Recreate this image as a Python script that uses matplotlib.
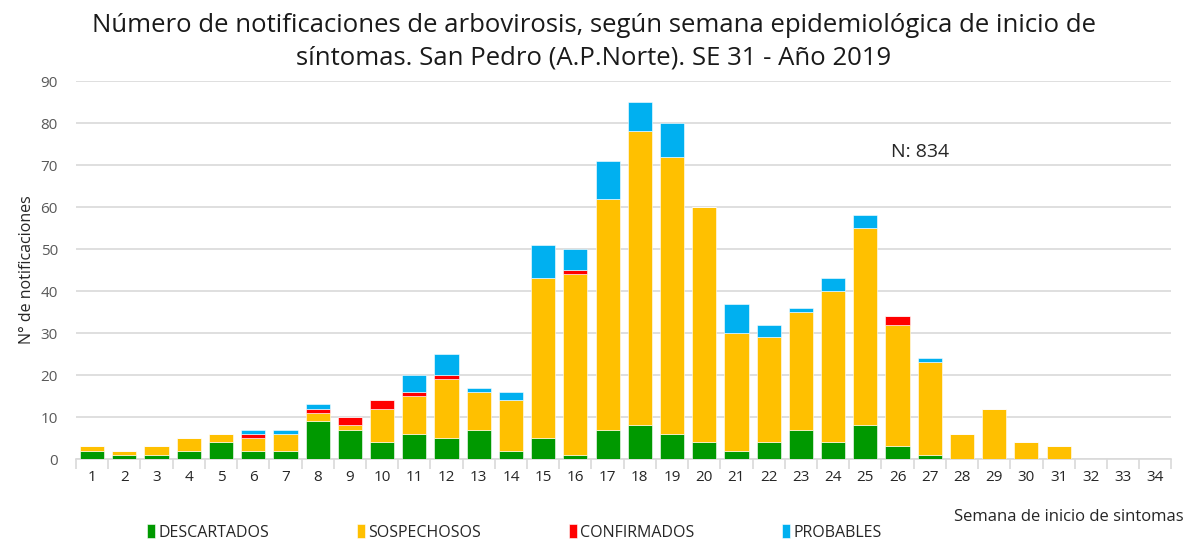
import matplotlib
matplotlib.use("Agg")
import matplotlib.pyplot as plt
import numpy as np

# semanas epidemiologicas 1..34
semanas = [str(i) for i in range(1, 35)]
descartados = [2, 1, 1, 2, 4, 2, 2, 9, 7, 4, 6, 5, 7, 2, 5, 1, 7, 8, 6, 4, 2, 4, 7, 4, 8, 3, 1, 0, 0, 0, 0, 0, 0, 0]
sospechosos = [1, 1, 2, 3, 2, 3, 4, 2, 1, 8, 9, 14, 9, 12, 38, 43, 55, 70, 66, 56, 28, 25, 28, 36, 47, 29, 22, 6, 12, 4, 3, 0, 0, 0]
confirmados = [0, 0, 0, 0, 0, 1, 0, 1, 2, 2, 1, 1, 0, 0, 0, 1, 0, 0, 0, 0, 0, 0, 0, 0, 0, 2, 0, 0, 0, 0, 0, 0, 0, 0]
probables = [0, 0, 0, 0, 0, 1, 1, 1, 0, 0, 4, 5, 1, 2, 8, 5, 9, 7, 8, 0, 7, 3, 1, 3, 3, 0, 1, 0, 0, 0, 0, 0, 0, 0]
yticks = list(range(0, 91, 10))

series = [
    ("DESCARTADOS", descartados, "#009900"),
    ("SOSPECHOSOS", sospechosos, "#FFC000"),
    ("CONFIRMADOS", confirmados, "#FF0000"),
    ("PROBABLES", probables, "#00B0F0"),
]

plt.rcParams['font.family'] = ['Open Sans', 'DejaVu Sans']

fig = plt.figure(figsize=(11.88, 5.39), dpi=100)
ax = fig.add_axes([0.064, 0.1484, 0.922, 0.7013])

x = np.arange(len(semanas))
bottom = np.zeros(len(semanas))
handles = []
for name, vals, col in series:
    vals = np.array(vals, dtype=float)
    b = ax.bar(x, vals, 0.75, bottom=bottom, color=col, edgecolor="white",
               linewidth=0.4, label=name, zorder=3)
    handles.append(b)
    bottom += vals

ax.set_xlim(-0.5, len(semanas) - 0.5)
ax.set_ylim(0, 90)
ax.set_yticks(yticks)
ax.set_xticks(x)
ax.set_xticklabels(semanas, fontsize=11)
ax.tick_params(axis="x", length=0, pad=8)
ax.tick_params(axis="y", length=0, labelsize=11, colors="#595959", pad=13)
for lab in ax.get_xticklabels():
    lab.set_color("#262626")
ax.set_xticks(np.arange(-0.5, len(semanas), 1), minor=True)
ax.tick_params(axis="x", which="minor", length=7, color="#d9d9d9", width=1.2)
ax.grid(axis="y", color="#d9d9d9", linewidth=1.2, zorder=0)
for s in ["top", "right", "left"]:
    ax.spines[s].set_visible(False)
ax.spines["bottom"].set_color("#d9d9d9")
ax.spines["bottom"].set_linewidth(1.2)

ax.set_ylabel("N° de notificaciones", fontsize=11.5, color="#262626", labelpad=4)
ax.text(24.8, 73, "N: 834", fontsize=14, color="#262626", ha="left", va="center")

fig.text(0.5, 0.975, "Número de notificaciones de arbovirosis, según semana epidemiológica de inicio de\n"
         "síntomas. San Pedro (A.P.Norte). SE 31 - Año 2019",
         ha="center", va="top", fontsize=18.5, color="#1a1a1a", linespacing=1.35)

fig.text(0.996, 0.04, "Semana de inicio de sintomas", ha="right", va="center",
         fontsize=12, color="#262626")

fig.legend(handles=handles, loc="center left", bbox_to_anchor=(0.112, 0.012), ncol=4,
           frameon=False, fontsize=11.5, handlelength=0.5, handleheight=0.9,
           handletextpad=0.2, columnspacing=5.5, labelcolor="#262626")

fig.savefig("out.png", dpi=100)
